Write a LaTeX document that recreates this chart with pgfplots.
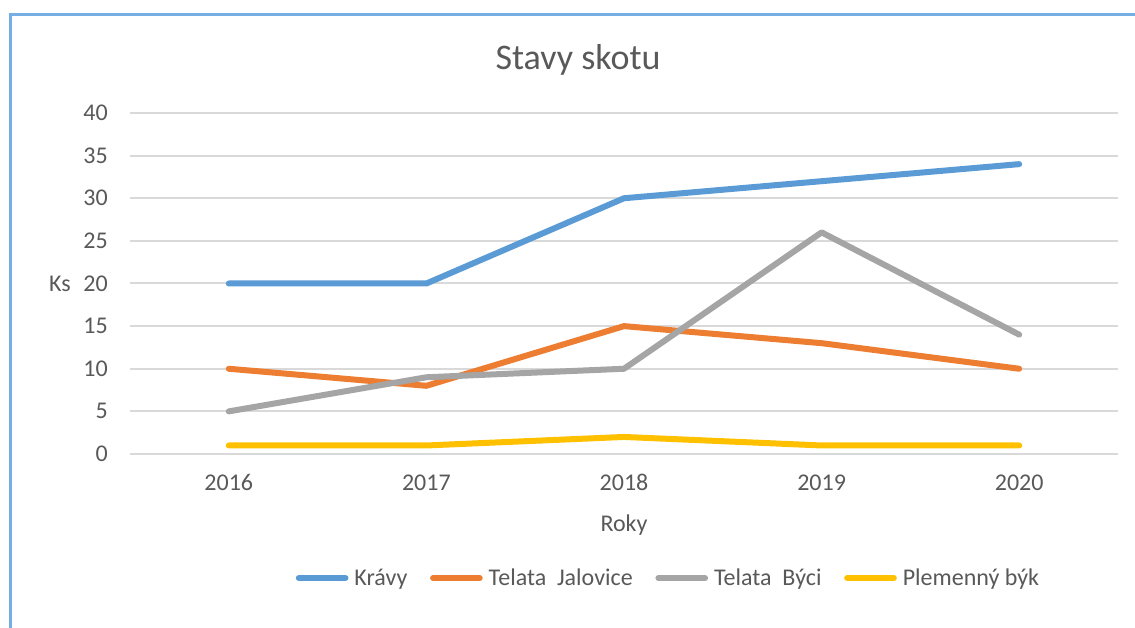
\documentclass[border=0pt]{standalone}
\usepackage{fontspec}
\setmainfont{Carlito}
\usepackage{pgfplots}
\pgfplotsset{compat=1.18}

\definecolor{txt}{HTML}{595959}
\definecolor{gridc}{HTML}{D9D9D9}
\definecolor{framec}{HTML}{74AEE3}
\definecolor{cblue}{HTML}{5B9BD5}
\definecolor{corange}{HTML}{ED7D31}
\definecolor{cgray}{HTML}{A5A5A5}
\definecolor{cyellow}{HTML}{FFC000}

\begin{document}
\begin{tikzpicture}[x=0.75pt,y=0.75pt]
\useasboundingbox (0,0) rectangle (1135,628);
\draw[color=framec, line width=1.6pt] (10.5,0) -- (10.5,613.5) -- (1135,613.5);
\node[anchor=base, text=txt, font=\fontsize{27}{32}\selectfont] at (578,558) {Stavy skotu};

\begin{axis}[
    at={(97.5pt,130.5pt)}, anchor=south west,
    scale only axis, width=741pt, height=255.75pt,
    xmin=-0.5, xmax=4.5,
    ymin=0, ymax=40,
    xtick={0,1,2,3,4},
    xticklabels={2016,2017,2018,2019,2020},
    ytick={0,5,...,40},
    axis line style={draw=none},
    major tick length=0pt,
    ymajorgrids=true,
    grid style={line width=1.5pt, color=gridc},
    /pgf/number format/assume math mode=true,
    tick label style={font=\fontsize{18}{21}\selectfont, text=txt},
    xticklabel style={anchor=base, yshift=-27.75pt},
    yticklabel style={anchor=east, inner sep=0pt, xshift=-16.5pt},
    every axis plot/.append style={line width=4.5pt, line join=round, line cap=round},
    legend columns=4,
    legend image code/.code={\draw[#1, line width=4.5pt, line cap=round] (0pt,0pt) -- (35pt,0pt);},
    legend style={
        at={(0.544,-0.364)}, anchor=center, draw=none,
        font=\fontsize{18}{21}\selectfont, text=txt,
        nodes={inner sep=0pt},
        /tikz/every odd column/.append style={column sep=4.5pt},
        /tikz/every even column/.append style={column sep=17pt},
    },
]
\addplot[color=cblue] coordinates {(0,20)(1,20)(2,30)(3,32)(4,34)};
\addlegendentry{Krávy}
\addplot[color=corange] coordinates {(0,10)(1,8)(2,15)(3,13)(4,10)};
\addlegendentry{Telata\ \ Jalovice}
\addplot[color=cgray] coordinates {(0,5)(1,9)(2,10)(3,26)(4,14)};
\addlegendentry{Telata\ \ Býci}
\addplot[color=cyellow] coordinates {(0,1)(1,1)(2,2)(3,1)(4,1)};
\addlegendentry{Plemenný býk}
\end{axis}

\node[anchor=base, text=txt, font=\fontsize{18}{21}\selectfont] at (60,336) {Ks};
\node[anchor=base, text=txt, font=\fontsize{18}{21}\selectfont] at (624,96) {Roky};
\end{tikzpicture}
\end{document}
